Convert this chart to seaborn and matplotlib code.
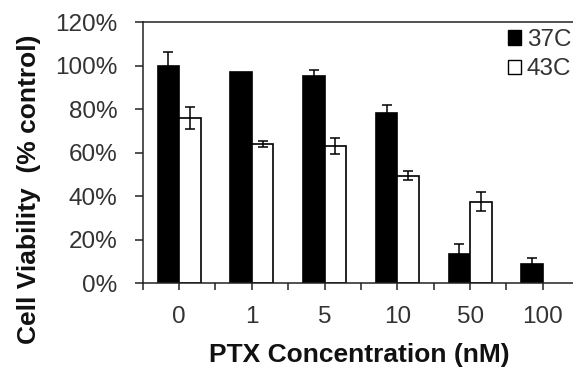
import numpy as np
import pandas as pd
import matplotlib
matplotlib.use("Agg")
import matplotlib.pyplot as plt
from matplotlib.patches import Patch
from matplotlib.ticker import FixedLocator, PercentFormatter
import seaborn as sns

# PTX dose-response at two temperatures (mean viability, % of control, with SD)
concentrations = ["0", "1", "5", "10", "50", "100"]
temperatures = ["37C", "43C"]
viability_37 = [100, 97, 95, 78, 13.5, 9]
error_37 = [6, 0, 3, 4, 4.7, 2.5]
viability_43 = [76, 64, 63, 49.5, 37.5, np.nan]
error_43 = [5, 1.2, 3.8, 2, 4.2, np.nan]

df = pd.DataFrame({
    "conc": concentrations * 2,
    "temp": [temperatures[0]] * len(concentrations) + [temperatures[1]] * len(concentrations),
    "viability": viability_37 + viability_43,
    "err": error_37 + error_43,
})

sns.set_style("ticks")
plt.rcParams["font.family"] = ["Liberation Sans", "DejaVu Sans"]

ink = "#222222"
fig = plt.figure(figsize=(5.73, 3.75), dpi=100)
ax = fig.add_axes([142.7 / 573, 1 - 283.3 / 375, 436.5 / 573, 261.3 / 375])

sns.barplot(
    data=df, x="conc", y="viability", hue="temp",
    order=concentrations, hue_order=temperatures,
    palette={"37C": "black", "43C": "white"},
    edgecolor="black", linewidth=1.2, width=0.59,
    errorbar=None, legend=False, ax=ax,
)

# error bars placed on the drawn bars
for container, temp in zip(ax.containers, temperatures):
    sub = df[df["temp"] == temp].set_index("conc")
    xs, ys, es = [], [], []
    for bar in container:
        xc = bar.get_x() + bar.get_width() / 2
        conc = concentrations[int(round(xc))]
        row = sub.loc[conc]
        if np.isnan(row["viability"]) or row["err"] <= 0:
            continue
        xs.append(xc)
        ys.append(row["viability"])
        es.append(row["err"])
    ax.errorbar(xs, ys, yerr=es, fmt="none", ecolor="black",
                elinewidth=1.1, capsize=3.8, capthick=1.1, zorder=5)

ax.set_xlim(-0.5, len(concentrations) - 0.5)
ax.set_ylim(0, 120)
ax.yaxis.set_major_locator(FixedLocator(np.arange(0, 121, 20)))
ax.yaxis.set_major_formatter(PercentFormatter(decimals=0))
ax.xaxis.set_minor_locator(FixedLocator(np.arange(-0.5, len(concentrations), 1.0)))

for side in ["left", "bottom", "top", "right"]:
    ax.spines[side].set_visible(True)
    ax.spines[side].set_color(ink)
    ax.spines[side].set_linewidth(1.1)

ax.tick_params(axis="y", which="major", direction="out", length=6, width=1.1,
               color=ink, labelsize=17.5, labelcolor="#333333", pad=12)
ax.tick_params(axis="x", which="both", direction="out", length=5, width=1.1,
               color=ink, labelsize=17.5, labelcolor="#333333", pad=11)

ax.set_xlabel("PTX Concentration (nM)", fontsize=19, fontweight="bold", color="#111111")
ax.set_ylabel("Cell Viability  (% control)", fontsize=19, fontweight="bold", color="#111111")
ax.xaxis.set_label_coords(0.496, -0.275)
ax.xaxis.label.set_verticalalignment("center")
ax.yaxis.set_label_coords(-0.2605, 0.36)
ax.yaxis.label.set_verticalalignment("center")

handles = [Patch(facecolor="black", edgecolor="black", linewidth=1.0),
           Patch(facecolor="white", edgecolor="black", linewidth=1.0)]
fig.legend(handles, temperatures, loc="upper left",
           bbox_to_anchor=(508 / 573, 1 - 29 / 375), frameon=False,
           fontsize=17.5, handlelength=0.53, handleheight=0.53,
           handletextpad=0.25, labelspacing=0.3, borderpad=0, borderaxespad=0,
           labelcolor="#333333")

fig.savefig("out.png", dpi=100)
